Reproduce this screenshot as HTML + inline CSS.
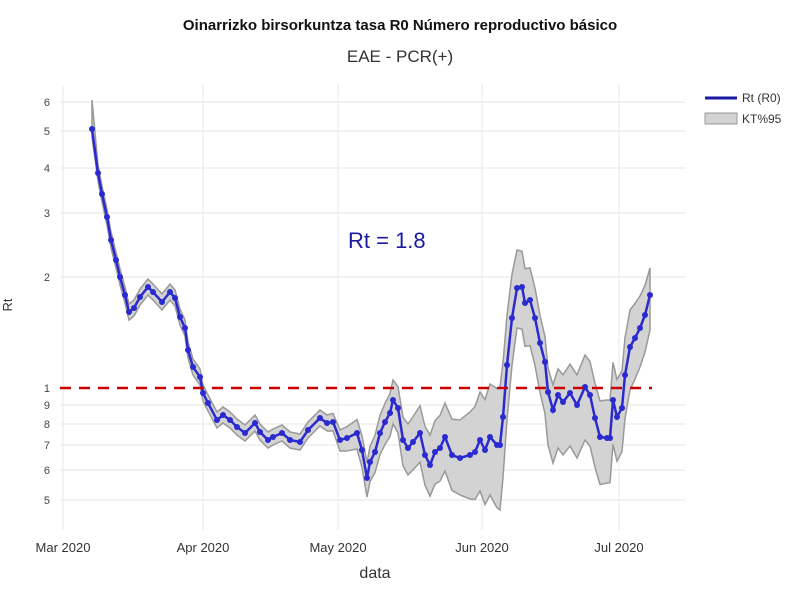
<!DOCTYPE html>
<html><head><meta charset="utf-8"><style>
body{margin:0;background:#fff;width:800px;height:591px;overflow:hidden}
svg{font-family:"Liberation Sans",sans-serif}
</style></head><body>
<svg id="s" width="800" height="591" xmlns="http://www.w3.org/2000/svg">
<rect width="800" height="591" fill="#fff"/>
<text x="400" y="30" text-anchor="middle" font-size="15" font-weight="bold" fill="#111">Oinarrizko birsorkuntza tasa R0 Número reproductivo básico</text>
<text x="400" y="62" text-anchor="middle" font-size="17" fill="#333">EAE - PCR(+)</text>
<g stroke="#ebebeb" stroke-width="1.2">
<line x1="60" x2="685" y1="102" y2="102"/><line x1="60" x2="685" y1="131" y2="131"/>
<line x1="60" x2="685" y1="168" y2="168"/><line x1="60" x2="685" y1="213" y2="213"/>
<line x1="60" x2="685" y1="277" y2="277"/><line x1="60" x2="685" y1="405" y2="405"/>
<line x1="60" x2="685" y1="424" y2="424"/><line x1="60" x2="685" y1="445" y2="445"/>
<line x1="60" x2="685" y1="470" y2="470"/><line x1="60" x2="685" y1="500" y2="500"/>
<line x1="63" x2="63" y1="85" y2="530"/><line x1="203" x2="203" y1="85" y2="530"/>
<line x1="338" x2="338" y1="85" y2="530"/><line x1="482" x2="482" y1="85" y2="530"/>
<line x1="619" x2="619" y1="85" y2="530"/>
</g>
<g font-size="11" fill="#444" text-anchor="end">
<text x="50" y="106">6</text><text x="50" y="135">5</text><text x="50" y="172">4</text>
<text x="50" y="217">3</text><text x="50" y="281">2</text><text x="50" y="392">1</text>
<text x="50" y="409">9</text><text x="50" y="428">8</text><text x="50" y="449">7</text>
<text x="50" y="474">6</text><text x="50" y="504">5</text>
</g>
<text transform="translate(12,305) rotate(-90)" text-anchor="middle" font-size="13" fill="#333">Rt</text>
<g font-size="13" fill="#333" text-anchor="middle">
<text x="63" y="552">Mar 2020</text><text x="203" y="552">Apr 2020</text>
<text x="338" y="552">May 2020</text><text x="482" y="552">Jun 2020</text>
<text x="619" y="552">Jul 2020</text>
</g>
<text x="375" y="578" text-anchor="middle" font-size="16" fill="#333">data</text>
<g id="d"></g>
<line x1="60" x2="652" y1="388" y2="388" stroke="#cc0000" stroke-width="2.5" stroke-dasharray="11,8"/>
<text x="348" y="248" font-size="22" fill="#1a1aa0">Rt =  1.8</text>
<line x1="705" x2="737" y1="98" y2="98" stroke="#1a1aa0" stroke-width="3"/>
<text x="742" y="102" font-size="12" fill="#333">Rt (R0)</text>
<rect x="705" y="113" width="32" height="11" fill="#d3d3d3" stroke="#999"/>
<text x="742" y="123" font-size="12" fill="#333">KT%95</text>
</svg>
<script>
var P=[[92,129],[98,173],[102,194],[107,217],[111,240],[116,260],[120,277],[125,295],[129,312],[134,308],[140,297],[148,287],[153,292],[162,302],[170,292],[175,298],[180,317],[185,328],[188,350],[193,367],[200,377],[203,393],[208,403],[217,420],[223,415],[230,420],[237,427],[245,433],[255,423],[260,432],[268,440],[273,437],[282,433],[290,440],[300,442],[308,430],[320,418],[327,423],[333,422],[340,440],[347,438],[357,433],[362,450],[367,478],[370,462],[375,452],[380,433],[385,422],[390,413],[393,400],[398,408],[403,440],[408,448],[413,442],[420,433],[425,455],[430,465],[435,452],[440,448],[445,437],[452,455],[460,458],[470,455],[475,452],[480,440],[485,450],[490,437],[497,445],[500,445],[503,417],[507,365],[512,318],[517,288],[522,287],[525,303],[530,300],[535,318],[540,343],[545,362],[548,392],[553,410],[558,395],[563,402],[570,393],[577,405],[585,387],[590,395],[595,418],[600,437],[607,438],[610,438],[613,400],[617,417],[622,408],[625,375],[630,347],[635,338],[640,328],[645,315],[650,295]];
var U=[[92,8],[330,8],[360,14],[393,20],[460,38],[500,58],[517,38],[548,24],[585,32],[607,38],[630,37],[650,27]];
var D=[[92,8],[330,8],[367,19],[460,37],[500,65],[517,40],[548,53],[585,53],[607,45],[630,43],[650,35]];
function it(a,x){for(var i=1;i<a.length;i++){if(x<=a[i][0]){var t=(x-a[i-1][0])/(a[i][0]-a[i-1][0]);return a[i-1][1]+t*(a[i][1]-a[i-1][1]);}}return a[a.length-1][1];}
var up=[],lo=[];P.forEach(function(p){up.push(p[0]+","+(p[1]-it(U,p[0])));lo.unshift(p[0]+","+(p[1]+it(D,p[0])));});
up[0]="92,100";
var h='<polygon points="'+up.concat(lo).join(" ")+'" fill="#d3d3d3" stroke="#999" stroke-width="1.5"/>';
h+='<polyline points="'+P.map(function(p){return p.join(",")}).join(" ")+'" fill="none" stroke="#2a2ad0" stroke-width="2.5"/>';
P.forEach(function(p){h+='<circle cx="'+p[0]+'" cy="'+p[1]+'" r="3" fill="#2a2ad0"/>';});
document.getElementById("d").innerHTML=h;
</script>
</body></html>
